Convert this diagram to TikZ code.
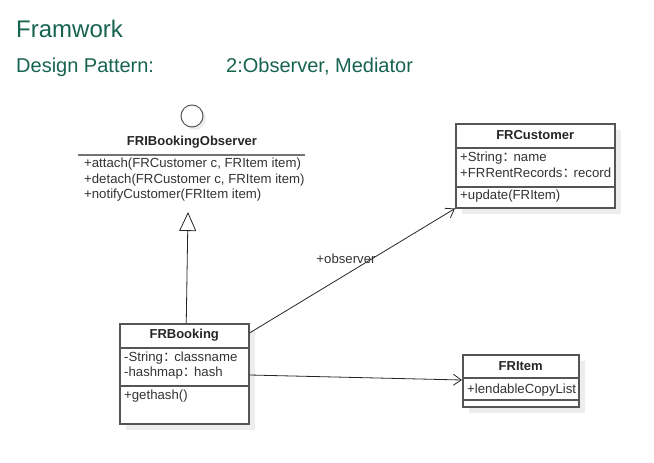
\documentclass[tikz,border=0pt]{standalone}
\usepackage{fontspec}
\setmainfont{Liberation Sans}
\newfontfamily\cjk{Noto Sans CJK SC}
\usetikzlibrary{arrows.meta,shadows,calc}
\definecolor{headc}{HTML}{16634F}
\definecolor{linec}{HTML}{555555}
\definecolor{txtc}{HTML}{333333}
\definecolor{shadc}{HTML}{EDEDED}
\newcommand{\fcolon}{{\cjk ：}\kern-2pt}
\begin{document}
\begin{tikzpicture}[x=1pt,y=-1pt,
  box/.style={draw=linec, line width=1.5pt, fill=white, inner sep=0pt,
    drop shadow={shadow xshift=6pt, shadow yshift=-6pt, fill=shadc, opacity=1}},
  divline/.style={draw=linec, line width=1.5pt},
  cname/.style={font=\fontsize{13}{15}\selectfont\bfseries, text=black!85, inner sep=0pt},
  member/.style={font=\fontsize{13.2}{15}\selectfont, text=txtc, inner sep=0pt, anchor=west},
  conn/.style={draw=black!85, line width=0.8pt},
  barb/.style={-{Straight Barb[length=8pt,width=11pt,line width=0.8pt]}},
  gen/.style={-{Triangle[open,length=19pt,width=17pt,line width=0.8pt]}},
  heading/.style={text=headc, inner sep=0pt, anchor=west}
]
\useasboundingbox (0,0) rectangle (654,463);

% headings
\node[heading, font=\fontsize{24}{28}\selectfont] (t1) at (16,29) {Framwork};
\node[heading, font=\fontsize{20}{23}\selectfont] (t2) at (16,67) {Design Pattern:};
\node[heading, font=\fontsize{20}{23}\selectfont] (t3) at (226,67) {2:Observer, Mediator};

% interface FRIBookingObserver
\node[circle, draw=linec, line width=1pt, fill=white, minimum size=22pt, inner sep=0pt,
  drop shadow={shadow xshift=3pt, shadow yshift=-3pt, fill=shadc, opacity=1}] (lollipop) at (192,116) {};
\node[cname] (ifname) at (192,142) {FRIBookingObserver};
\coordinate (ifl) at (78,155);
\coordinate (ifr) at (305,155);
\draw[draw=black!55, line width=1.8pt] (ifl) -- (ifr);
\node[member] (ifm1) at (84,164) {+attach(FRCustomer c, FRItem item)};
\node[member] (ifm2) at (84,180) {+detach(FRCustomer c, FRItem item)};
\node[member] (ifm3) at (84,195) {+notifyCustomer(FRItem item)};
\coordinate (iftip) at (188,212);

% FRCustomer
\node[box, minimum width=159pt, minimum height=84pt, anchor=north west] (cust) at (455,123) {};
\draw[divline] ([yshift=-25pt]cust.north west) -- ([yshift=-25pt]cust.north east);
\draw[divline] ([yshift=-64pt]cust.north west) -- ([yshift=-64pt]cust.north east);
\node[cname] (custname) at ([yshift=-12.5pt]cust.north) {FRCustomer};
\node[member] (custa1) at (460,158) {+String\fcolon name};
\node[member] (custa2) at (460,173) {+FRRentRecords\fcolon record};
\node[member] (custm1) at (460,196) {+update(FRItem)};

% FRBooking
\node[box, minimum width=129pt, minimum height=100pt, anchor=north west] (book) at (119,323) {};
\draw[divline] ([yshift=-25pt]book.north west) -- ([yshift=-25pt]book.north east);
\draw[divline] ([yshift=-63pt]book.north west) -- ([yshift=-63pt]book.north east);
\node[cname] (bookname) at ([yshift=-12.5pt]book.north) {FRBooking};
\node[member] (booka1) at (124,358) {-String\fcolon classname};
\node[member] (booka2) at (124,373) {-hashmap\fcolon hash};
\node[member] (bookm1) at (124,396) {+gethash()};

% FRItem
\node[box, minimum width=116pt, minimum height=52pt, anchor=north west] (item) at (462,354) {};
\draw[divline] ([yshift=-24pt]item.north west) -- ([yshift=-24pt]item.north east);
\draw[divline] ([yshift=-46pt]item.north west) -- ([yshift=-46pt]item.north east);
\node[cname] (itemname) at ([yshift=-12pt]item.north) {FRItem};
\node[member] (itema1) at (467,390) {+lendableCopyList};

% connectors
\draw[conn, gen] ([xshift=2pt]book.north) -- (iftip);
\draw[conn, barb] ([yshift=-10pt]book.north east) -- (cust.south west);
\draw[conn, barb] ([yshift=-52pt]book.north east) -- ([yshift=-26pt]item.north west);
\node[font=\fontsize{13.2}{15}\selectfont, text=txtc, inner sep=0pt] (obs) at (346,259) {+observer};
\end{tikzpicture}
\end{document}
